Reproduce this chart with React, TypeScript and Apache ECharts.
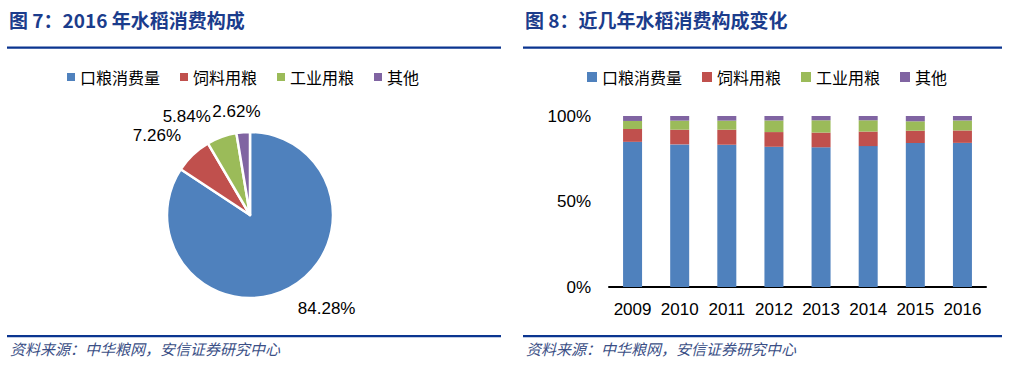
import React, { useEffect, useRef } from "react";
import * as echarts from "echarts";

const seriesNames = ["口粮消费量", "饲料用粮", "工业用粮", "其他"];
const pieValues = [84.28, 7.26, 5.84, 2.62];
const years = ["2009", "2010", "2011", "2012", "2013", "2014", "2015", "2016"];
const rationValues = [84.9, 83.4, 83.2, 82.0, 81.7, 82.4, 84.2, 84.28];
const feedValues = [7.5, 8.6, 8.8, 8.6, 8.6, 8.5, 7.2, 7.26];
const industryValues = [4.7, 5.3, 5.3, 6.8, 7.2, 6.6, 5.5, 5.84];
const otherValues = [2.9, 2.7, 2.7, 2.6, 2.5, 2.5, 3.1, 2.62];
const yTicks = [0, 50, 100];
const colors = ["#4F81BD", "#C0504D", "#9BBB59", "#8064A2"];

const titleLeft = "图 7：2016 年水稻消费构成";
const titleRight = "图 8：近几年水稻消费构成变化";
const source = "资料来源：中华粮网，安信证券研究中心";

const CJK = '"Noto Sans CJK SC", "Noto Sans", sans-serif';
const NUM = '"Liberation Sans", Arial, sans-serif';

// fine label nudges (pixels) for the pie labels, in data order
const pieLabelNudge = [
  [-6, 3],
  [7, -5],
  [1, -2],
  [24, -1],
];

export default function App() {
  const ref = useRef<HTMLDivElement>(null);
  useEffect(() => {
    if (!ref.current) return;
    const chart = echarts.init(ref.current, undefined, { renderer: "svg" });
    const titleColor = "#1B3C8C";
    const lineColor = "#0B3590";
    const barSeries = [rationValues, feedValues, industryValues, otherValues].map((vals, i) => ({
      type: "bar" as const,
      name: seriesNames[i],
      stack: "total",
      data: vals,
      barWidth: 19,
      itemStyle: { color: colors[i] },
      xAxisIndex: 0,
      yAxisIndex: 0,
    }));
    const legendCommon = {
      top: 64,
      itemWidth: 8,
      itemHeight: 8,
      itemGap: 20,
      icon: "rect",
      textStyle: { fontFamily: CJK, fontSize: 16, color: "#000" },
      data: seriesNames,
      selectedMode: false,
    };
    chart.setOption({
      animation: false,
      color: colors,
      legend: [
        { ...legendCommon, left: 62 },
        { ...legendCommon, left: 582, itemWidth: 10, itemHeight: 10 },
      ],
      grid: { left: 609, right: 41, top: 116, bottom: 78, containLabel: false },
      xAxis: {
        type: "category",
        data: years,
        axisLine: { lineStyle: { color: "#000", width: 2 } },
        axisTick: { show: false },
        axisLabel: { fontFamily: NUM, fontSize: 17, color: "#000", margin: 14, interval: 0 },
      },
      yAxis: {
        type: "value",
        min: yTicks[0],
        max: yTicks[yTicks.length - 1],
        interval: 50,
        axisLine: { show: false },
        axisTick: { show: false },
        splitLine: { show: false },
        axisLabel: { fontFamily: NUM, fontSize: 17, color: "#000", margin: 18, formatter: "{value}%" },
      },
      series: [
        {
          type: "pie",
          center: [250, 215],
          radius: 83,
          startAngle: 90,
          clockwise: true,
          avoidLabelOverlap: false,
          labelLayout: (p: any) => {
            const n = pieLabelNudge[p.dataIndex] || [0, 0];
            return { dx: n[0], dy: n[1], hideOverlap: false };
          },
          data: seriesNames.map((n, i) => ({ name: n, value: pieValues[i] })),
          itemStyle: { borderColor: "#fff", borderWidth: 2.5 },
          label: {
            show: true,
            position: "outside",
            formatter: (p: any) => p.value.toFixed(2) + "%",
            fontFamily: NUM,
            fontSize: 17,
            color: "#000",
          },
          labelLine: { show: false, length: 20, length2: 0 },
        },
        ...barSeries,
      ],
      graphic: [
        { type: "text", left: 9, top: 10, style: { text: titleLeft, font: `bold 19px ${CJK}`, fill: titleColor } },
        { type: "text", left: 525, top: 10, style: { text: titleRight, font: `bold 19px ${CJK}`, fill: titleColor } },
        { type: "rect", shape: { x: 7, y: 46.5, width: 494, height: 2.2 }, style: { fill: lineColor } },
        { type: "rect", shape: { x: 523, y: 46.5, width: 479, height: 2.2 }, style: { fill: lineColor } },
        { type: "rect", shape: { x: 7, y: 335, width: 494, height: 2.2 }, style: { fill: lineColor } },
        { type: "rect", shape: { x: 523, y: 335, width: 479, height: 2.2 }, style: { fill: lineColor } },
        { type: "text", left: 10, top: 341, style: { text: source, font: `italic 15px ${CJK}`, fill: "#3B4F86" } },
        { type: "text", left: 526, top: 341, style: { text: source, font: `italic 15px ${CJK}`, fill: "#3B4F86" } },
      ],
    });
    return () => chart.dispose();
  }, []);
  return (
    <div
      ref={ref}
      style={{ position: "fixed", left: 0, top: 0, width: 1027, height: 365, background: "#fff" }}
    />
  );
}
